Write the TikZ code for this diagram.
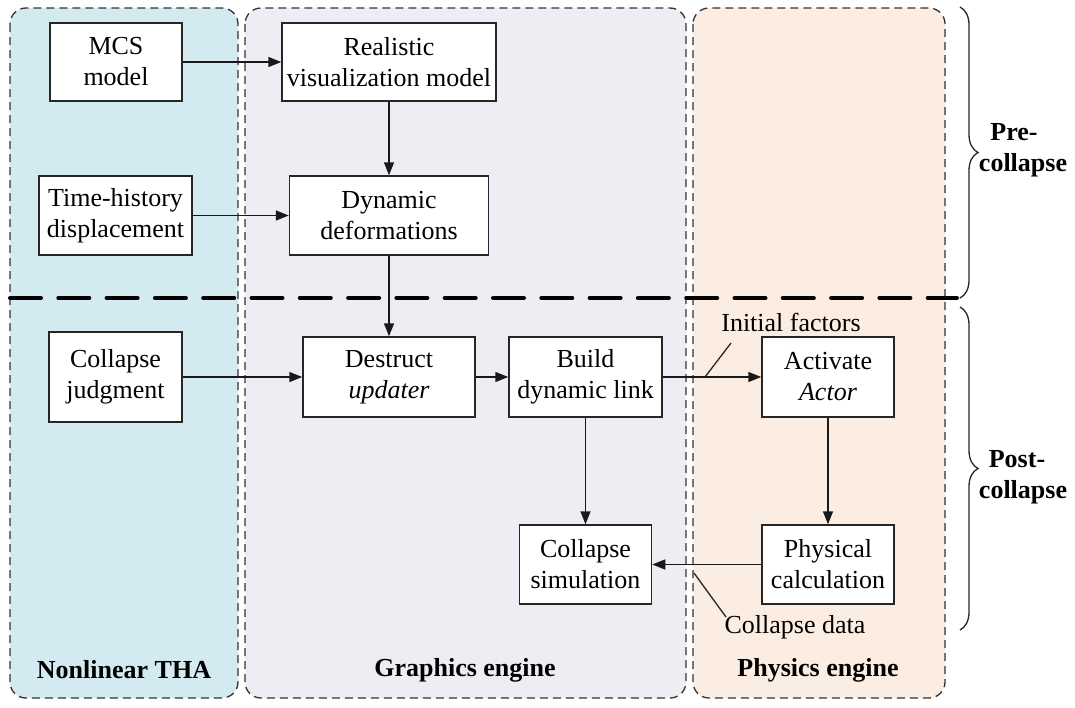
\documentclass[tikz,border=0pt]{standalone}
\usepackage{fontspec}
\setmainfont{Liberation Serif}
\usetikzlibrary{arrows.meta,decorations.pathreplacing,calc}
\definecolor{thacol}{HTML}{D3EAF0}
\definecolor{gfxcol}{HTML}{EFEDF3}
\definecolor{phycol}{HTML}{FCEDE2}
\begin{document}
\begin{tikzpicture}[x=1pt,y=-1pt,
  every node/.style={font=\fontsize{26}{31}\selectfont},
  box/.style={draw=black!85,line width=1.5pt,fill=white,align=center,inner sep=0pt},
  arr/.style={draw=black!90,line width=1.5pt,-{Triangle[length=13pt,width=10pt]}},
  leader/.style={draw=black!85,line width=1.3pt},
  panel/.style={draw=black!80,line width=1.3pt,dash pattern=on 8pt off 5pt,rounded corners=16pt},
  lbl/.style={font=\bfseries\fontsize{26}{31}\selectfont,align=center},
  bracestyle/.style={draw=black!85,line width=1.3pt,decorate,decoration={brace,amplitude=18pt}},
]
\useasboundingbox (0,0) rectangle (1075,707);
% panels
\draw[panel,fill=thacol] (10,8) rectangle (238,698);
\draw[panel,fill=gfxcol] (245,8) rectangle (686,698);
\draw[panel,fill=phycol] (693,8) rectangle (945,698);
% phase divider
\draw[line width=4pt,dash pattern=on 31pt off 17.3pt,line cap=round] (10,298) -- (957,298);
% boxes
\node[box,minimum width=132pt,minimum height=78pt] (mcs) at (116,62) {MCS\\model};
\node[box,minimum width=214pt,minimum height=78pt] (real) at (389,62) {Realistic\\visualization model};
\node[box,minimum width=153pt,minimum height=79pt] (time) at (115.5,215.5) {Time-history\\displacement};
\node[box,minimum width=199pt,minimum height=79pt] (dyn) at (389,215.5) {Dynamic\\deformations};
\node[box,minimum width=133pt,minimum height=90pt] (judg) at (115.5,377) {Collapse\\judgment};
\node[box,minimum width=172pt,minimum height=80pt] (destr) at (389,377) {Destruct\\\textit{updater}};
\node[box,minimum width=153pt,minimum height=80pt] (build) at (585.5,377) {Build\\dynamic link};
\node[box,minimum width=132pt,minimum height=80pt] (act) at (828,377) {Activate\\\textit{Actor}};
\node[box,minimum width=132pt,minimum height=79pt] (sim) at (585.5,564.5) {Collapse\\simulation};
\node[box,minimum width=132pt,minimum height=79pt] (phys) at (828,564.5) {Physical\\calculation};
% connectors
\draw[arr] (mcs) -- (real);
\draw[arr] (real) -- (dyn);
\draw[arr] (time) -- (dyn);
\draw[arr] (dyn) -- (destr);
\draw[arr] (judg) -- (destr);
\draw[arr] (destr) -- (build);
\draw[arr] (build) -- (act);
\draw[arr] (build) -- (sim);
\draw[arr] (act) -- (phys);
\draw[arr] (phys) -- (sim);
% annotations
\node (initf) at (791,322) {Initial factors};
\coordinate (initp) at (705,377);
\coordinate (initq) at (731,343);
\draw[leader] (initp) -- (initq);
\node (cdata) at (795,627) {Collapse data};
\coordinate (cdp) at (694,573);
\coordinate (cdq) at (726,617);
\draw[leader] (cdp) -- (cdq);
% braces
\coordinate (preA) at (960,7);
\coordinate (preB) at (960,298);
\coordinate (postA) at (960,307);
\coordinate (postB) at (960,630);
\draw[bracestyle] (preA) -- (preB);
\draw[bracestyle] (postA) -- (postB);
\node[lbl] (pre) at (1023,150) {\hspace*{-18pt}Pre-\\collapse};
\node[lbl] (post) at (1023,477) {\hspace*{-12pt}Post-\\collapse};
% panel titles
\node[lbl] (tha) at (124,670) {Nonlinear THA};
\node[lbl] (gfx) at (465,670) {Graphics engine};
\node[lbl] (phy) at (818,670) {Physics engine};
\end{tikzpicture}
\end{document}
